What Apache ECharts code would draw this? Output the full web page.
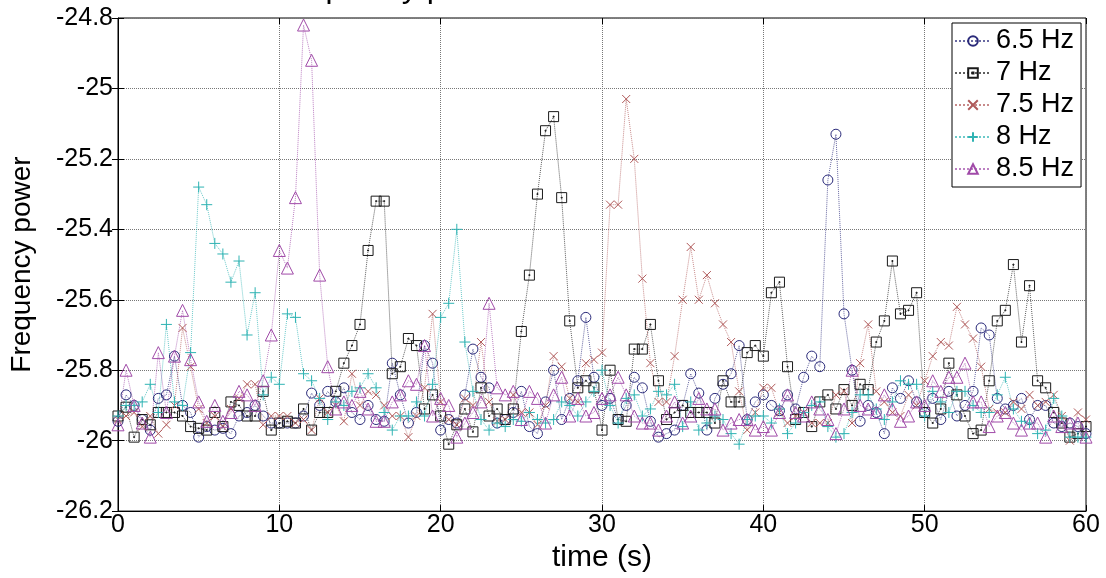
<!DOCTYPE html>
<html>
<head>
    <meta charset="UTF-8">
    <title>Frequency power</title>
    <script type="text/javascript" src="https://cdn.jsdelivr.net/npm/echarts@6/dist/echarts.min.js"></script>
    <style type="text/css">
        html, body { margin: 0; padding: 0; background: #fff; }
        #chart { width: 1106px; height: 578px; }
    </style>
</head>
<body>
<div id="chart"></div>
<script type="text/javascript">
// sample times, one every 0.5 s from 0 to 60
var times = [];
for (var i = 0; i <= 120; i++) times.push(i * 0.5);

var names = ['6.5 Hz', '7 Hz', '7.5 Hz', '8 Hz', '8.5 Hz'];
var yTicks = [-26.2, -26, -25.8, -25.6, -25.4, -25.2, -25, -24.8];
var xTicks = [0, 10, 20, 30, 40, 50, 60];

var hz65 = [
    -25.945, -25.87, -25.90, -25.94, -25.97, -25.88, -25.87, -25.76, -25.90, -25.92,
    -25.99, -25.96, -25.97, -25.965, -25.98, -25.93, -25.92, -25.90, -25.93, -25.95,
    -25.95, -25.95, -25.95, -25.93, -25.865, -25.90, -25.86, -25.89, -25.85, -25.92,
    -25.94, -25.90, -25.94, -25.945, -25.78, -25.87, -25.95, -25.92, -25.73, -25.78,
    -25.97, -25.94, -25.95, -25.87, -25.74, -25.82, -25.85, -25.95, -25.94, -25.92,
    -25.86, -25.96, -25.98, -25.89, -25.80, -25.94, -25.88, -25.83, -25.65, -25.82,
    -25.90, -25.88, -25.94, -25.90, -25.82, -25.85, -25.945, -25.99, -25.98, -25.97,
    -25.90, -25.81, -25.865, -25.97, -25.88, -25.84, -25.81, -25.73, -25.94, -25.89,
    -25.87, -25.90, -25.915, -25.87, -25.91, -25.82, -25.76, -25.79, -25.26, -25.13,
    -25.64, -25.80, -25.945, -25.90, -25.92, -25.98, -25.85, -25.88, -25.83, -25.89,
    -25.92, -25.88, -25.94, -25.86, -25.93, -25.90, -25.86, -25.68, -25.70, -25.88,
    -25.91, -25.90, -25.88, -25.94, -25.90, -25.90, -25.95, -25.96, -25.95, -25.96,
    -25.98
];
var hz7 = [
    -25.93, -25.905, -25.99, -25.94, -25.955, -25.92, -25.92, -25.92, -25.93, -25.96,
    -25.965, -25.97, -25.92, -25.96, -25.89, -25.90, -25.93, -25.93, -25.86, -25.97,
    -25.95, -25.945, -25.95, -25.91, -25.97, -25.92, -25.92, -25.86, -25.78, -25.73,
    -25.67, -25.46, -25.32, -25.32, -25.81, -25.79, -25.71, -25.73, -25.91, -25.87,
    -25.93, -26.01, -25.955, -25.91, -25.975, -25.85, -25.93, -25.91, -25.94, -25.91,
    -25.69, -25.53, -25.30, -25.12, -25.08, -25.31, -25.66, -25.85, -25.83, -25.85,
    -25.97, -25.80, -25.94, -25.945, -25.74, -25.74, -25.67, -25.83, -25.94, -25.92,
    -25.90, -25.92, -25.92, -25.92, -25.95, -25.83, -25.89, -25.89, -25.75, -25.73,
    -25.76, -25.58, -25.55, -25.79, -25.94, -25.92, -25.96, -25.89, -25.87, -25.91,
    -25.855, -25.90, -25.84, -25.855, -25.72, -25.66, -25.49, -25.64, -25.63, -25.58,
    -25.92, -25.95, -25.91, -25.78, -25.87, -25.93, -25.98, -25.97, -25.83, -25.66,
    -25.63, -25.50, -25.72, -25.56, -25.83, -25.85, -25.92, -25.95, -25.99, -25.98,
    -25.96
];
var hz75 = [
    -25.94, -25.93, -25.92, -25.96, -25.93, -25.98, -25.955, -25.90, -25.68, -25.79,
    -25.91, -25.95, -25.93, -25.96, -25.91, -25.88, -25.84, -25.84, -25.955, -25.93,
    -25.93, -25.93, -25.95, -25.94, -25.97, -25.88, -25.92, -25.90, -25.945, -25.81,
    -25.90, -25.86, -25.87, -25.90, -25.93, -25.93, -25.99, -25.93, -25.85, -25.64,
    -25.89, -25.94, -25.955, -25.88, -25.90, -25.72, -25.89, -25.945, -25.94, -25.87,
    -25.92, -25.92, -25.955, -25.90, -25.76, -25.79, -25.88, -25.89, -25.78, -25.77,
    -25.75, -25.33, -25.33, -25.03, -25.20, -25.54, -25.78, -25.89, -25.89, -25.76,
    -25.60, -25.45, -25.60, -25.53, -25.61, -25.67, -25.72, -25.86, -25.97, -25.92,
    -25.85, -25.85, -25.92, -25.95, -25.93, -25.92, -25.95, -25.95, -25.95, -25.87,
    -25.86, -25.95, -25.78, -25.67, -25.86, -25.89, -25.92, -25.93, -25.87, -25.90,
    -25.83, -25.76, -25.72, -25.73, -25.62, -25.67, -25.71, -25.79, -25.91, -25.92,
    -25.92, -25.89, -25.91, -25.87, -25.90, -25.89, -25.87, -25.93, -26.00, -25.92,
    -25.94
];
var hz8 = [
    -25.93, -25.90, -25.90, -25.89, -25.84, -25.92, -25.67, -25.89, -25.90, -25.75,
    -25.28, -25.33, -25.44, -25.47, -25.55, -25.49, -25.70, -25.58, -25.87, -25.82,
    -25.84, -25.64, -25.65, -25.81, -25.83, -25.88, -25.94, -25.89, -25.90, -25.86,
    -25.85, -25.81, -25.85, -25.92, -25.97, -25.93, -25.93, -25.89, -25.93, -25.84,
    -25.65, -25.61, -25.40, -25.72, -25.86, -25.94, -25.97, -25.95, -25.96, -25.94,
    -25.945, -25.92, -25.94, -25.95, -25.94, -25.89, -25.90, -25.93, -25.89, -25.86,
    -25.80, -25.90, -25.95, -25.88, -25.87, -25.93, -25.91, -25.86, -25.87, -25.84,
    -25.96, -25.89, -25.97, -25.95, -25.93, -25.94, -25.98, -26.01, -25.94, -25.93,
    -25.93, -25.95, -25.91, -25.98, -25.95, -25.92, -25.90, -25.89, -25.96, -25.99,
    -25.98, -25.92, -25.87, -25.87, -25.91, -25.94, -25.89, -25.83, -25.84, -25.84,
    -25.93, -25.86, -25.89, -25.92, -25.86, -25.86, -25.90, -25.92, -25.92, -25.87,
    -25.82, -25.91, -25.945, -25.95, -25.98, -25.97, -25.88, -25.93, -25.99, -25.99,
    -25.99
];
var hz85 = [
    -25.955, -25.80, -25.90, -25.95, -25.99, -25.75, -25.92, -25.76, -25.63, -25.77,
    -25.89, -25.945, -25.90, -25.945, -25.92, -25.86, -25.87, -25.90, -25.83, -25.70,
    -25.46, -25.51, -25.31, -24.82, -24.92, -25.53, -25.79, -25.91, -25.89, -25.90,
    -25.86, -25.91, -25.945, -25.945, -25.89, -25.87, -25.83, -25.84, -25.73, -25.93,
    -25.88, -25.90, -25.99, -25.95, -25.92, -25.89, -25.61, -25.85, -25.87, -25.86,
    -25.94, -25.86, -25.88, -25.95, -25.87, -25.82, -25.93, -25.88, -25.93, -25.92,
    -25.88, -25.87, -25.82, -25.87, -25.93, -25.95, -25.95, -25.97, -25.93, -25.89,
    -25.95, -25.93, -25.88, -25.91, -25.91, -25.97, -25.95, -25.94, -25.94, -25.97,
    -25.96, -25.97, -25.92, -25.87, -25.92, -25.93, -25.89, -25.91, -25.94, -25.98,
    -25.91, -25.80, -25.90, -25.91, -25.92, -25.87, -25.91, -25.945, -25.93, -25.89,
    -25.90, -25.83, -25.86, -25.82, -25.82, -25.78, -25.89, -25.89, -25.96, -25.93,
    -25.92, -25.95, -25.97, -25.95, -25.95, -25.99, -25.93, -25.96, -25.95, -25.95,
    -25.99
];

var colors = ['#2a2a7a', '#1a1a1a', '#b05a5a', '#2fb3b3', '#a04aa8'];
var symbols = [
    'circle',
    'path://M0,0L10,0L10,10L0,10Z M4.5,4.5L5.5,4.5L5.5,5.5L4.5,5.5Z',
    'path://M0,0L10,10M10,0L0,10',
    'path://M5,0L5,10M0,5L10,5',
    'triangle'
];
var sizes = [10, 10, 8, 11, 12];
var allData = [hz65, hz7, hz75, hz8, hz85];

var font = 'Liberation Sans, Arial, sans-serif';
var myChart = echarts.init(document.getElementById('chart'));

var series = [];
for (var s = 0; s < names.length; s++) {
    var pts = [];
    for (var k = 0; k < times.length; k++) pts.push([times[k], allData[s][k]]);
    series.push({
        name: names[s],
        type: 'line',
        data: pts,
        symbol: symbols[s],
        symbolSize: sizes[s],
        showAllSymbol: true,
        itemStyle: { color: 'none', borderColor: colors[s], borderWidth: 1 },
        lineStyle: { color: colors[s], width: 1, type: 'dotted', opacity: 0.7 },
        emphasis: { disabled: true }
    });
}

function fmt(v) { return String(parseFloat(v.toFixed(2))); }

myChart.setOption({
    animation: false,
    backgroundColor: '#fff',
    title: {
        text: 'Frequency power distribution of stimulus',
        left: 'center',
        top: -33,
        textStyle: { fontFamily: font, fontSize: 32, fontWeight: 'normal', color: '#000' }
    },
    grid: {
        left: 116, right: 20, top: 18, bottom: 56,
        show: true, borderColor: '#000', borderWidth: 1
    },
    legend: {
        data: names,
        orient: 'vertical',
        left: 952, top: 23,
        padding: [4, 7, 4, 2],
        itemGap: 4,
        itemWidth: 36, itemHeight: 12,
        backgroundColor: '#fff',
        borderColor: '#000', borderWidth: 1,
        textStyle: { fontFamily: font, fontSize: 27, lineHeight: 28, color: '#000' }
    },
    xAxis: [{
        type: 'value', min: xTicks[0], max: xTicks[xTicks.length - 1], interval: 10,
        name: 'time (s)', nameLocation: 'middle', nameGap: 24,
        nameTextStyle: { fontFamily: font, fontSize: 30, color: '#000' },
        axisLine: { show: true, lineStyle: { color: '#000' } },
        axisTick: { inside: true, length: 6, lineStyle: { color: '#000' } },
        axisLabel: { margin: 2, fontFamily: font, fontSize: 25, color: '#000' },
        splitLine: { show: true, lineStyle: { color: '#777', type: 'dotted' } }
    }, {
        type: 'value', position: 'top', min: 0, max: 60, interval: 10,
        axisLine: { show: false },
        axisTick: { inside: true, length: 6, lineStyle: { color: '#000' } },
        axisLabel: { show: false }, splitLine: { show: false }
    }],
    yAxis: [{
        type: 'value', min: yTicks[0], max: yTicks[yTicks.length - 1], interval: 0.2,
        name: 'Frequency power', nameLocation: 'middle', nameGap: 82,
        nameTextStyle: { fontFamily: font, fontSize: 28, color: '#000' },
        axisLine: { show: true, lineStyle: { color: '#000' } },
        axisTick: { inside: true, length: 6, lineStyle: { color: '#000' } },
        axisLabel: { margin: 5, fontFamily: font, fontSize: 25, color: '#000', formatter: fmt },
        splitLine: { show: true, lineStyle: { color: '#777', type: 'dotted' } }
    }, {
        type: 'value', position: 'right', min: -26.2, max: -24.8, interval: 0.2,
        axisLine: { show: false },
        axisTick: { inside: true, length: 6, lineStyle: { color: '#000' } },
        axisLabel: { show: false }, splitLine: { show: false }
    }],
    series: series
});
</script>
</body>
</html>
